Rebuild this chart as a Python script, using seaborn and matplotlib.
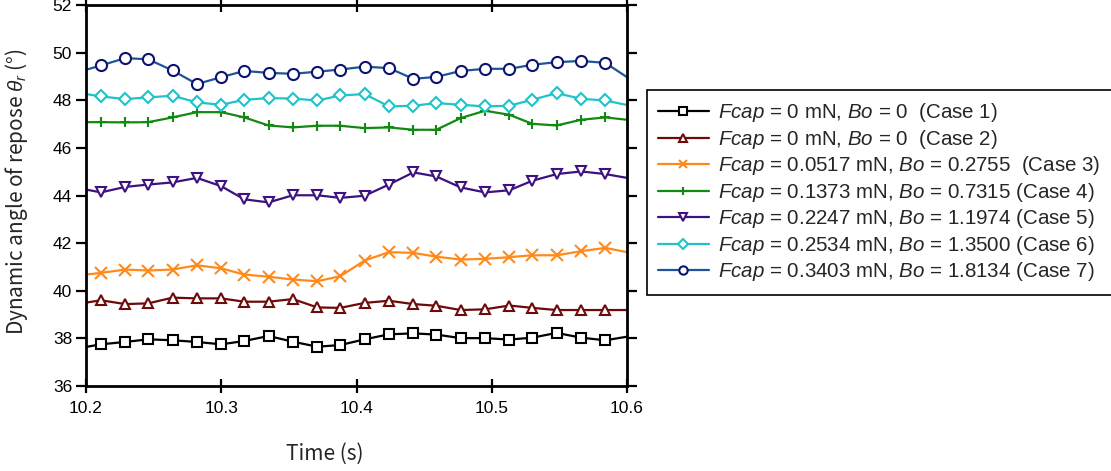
import numpy as np
import pandas as pd
import matplotlib
matplotlib.use("Agg")
import matplotlib.pyplot as plt
import seaborn as sns

# Sampled times (s); first and last entries are the window edges
time_s = [10.200, 10.211, 10.229, 10.246, 10.264, 10.282, 10.300, 10.317, 10.335,
          10.353, 10.371, 10.388, 10.406, 10.424, 10.442, 10.459, 10.477, 10.495,
          10.513, 10.530, 10.548, 10.566, 10.584, 10.600]

# Dynamic angle of repose (deg) for each case
case1 = [37.64, 37.75, 37.85, 37.96, 37.92, 37.85, 37.75, 37.89, 38.10, 37.86, 37.65, 37.72,
         37.96, 38.17, 38.21, 38.16, 38.01, 38.01, 37.95, 38.03, 38.23, 38.03, 37.92, 38.07]
case2 = [39.50, 39.60, 39.44, 39.47, 39.71, 39.68, 39.68, 39.54, 39.54, 39.65, 39.30, 39.28,
         39.49, 39.58, 39.44, 39.37, 39.19, 39.22, 39.38, 39.28, 39.19, 39.19, 39.19, 39.19]
case3 = [40.68, 40.75, 40.89, 40.85, 40.89, 41.07, 40.94, 40.68, 40.59, 40.47, 40.40, 40.61,
         41.27, 41.62, 41.59, 41.43, 41.31, 41.34, 41.41, 41.49, 41.49, 41.66, 41.80, 41.62]
case4 = [47.08, 47.08, 47.07, 47.08, 47.28, 47.50, 47.50, 47.28, 46.94, 46.86, 46.93, 46.93,
         46.83, 46.86, 46.76, 46.76, 47.25, 47.56, 47.39, 47.01, 46.94, 47.18, 47.28, 47.18]
case5 = [44.25, 44.13, 44.36, 44.46, 44.55, 44.74, 44.39, 43.84, 43.71, 44.01, 44.01, 43.90,
         43.99, 44.46, 44.97, 44.80, 44.34, 44.13, 44.22, 44.62, 44.90, 45.01, 44.90, 44.74]
case6 = [48.26, 48.16, 48.05, 48.12, 48.19, 47.91, 47.81, 48.02, 48.09, 48.07, 47.99, 48.20,
         48.26, 47.74, 47.77, 47.88, 47.81, 47.74, 47.77, 48.02, 48.30, 48.06, 47.99, 47.80]
case7 = [49.28, 49.46, 49.77, 49.72, 49.25, 48.68, 48.97, 49.23, 49.15, 49.11, 49.20, 49.29,
         49.41, 49.35, 48.90, 48.98, 49.23, 49.32, 49.32, 49.49, 49.60, 49.65, 49.57, 48.97]

labels = [
    r"$\mathit{Fcap}$ = 0 mN, $\mathit{Bo}$ = 0  (Case 1)",
    r"$\mathit{Fcap}$ = 0 mN, $\mathit{Bo}$ = 0  (Case 2)",
    r"$\mathit{Fcap}$ = 0.0517 mN, $\mathit{Bo}$ = 0.2755  (Case 3)",
    r"$\mathit{Fcap}$ = 0.1373 mN, $\mathit{Bo}$ = 0.7315 (Case 4)",
    r"$\mathit{Fcap}$ = 0.2247 mN, $\mathit{Bo}$ = 1.1974 (Case 5)",
    r"$\mathit{Fcap}$ = 0.2534 mN, $\mathit{Bo}$ = 1.3500 (Case 6)",
    r"$\mathit{Fcap}$ = 0.3403 mN, $\mathit{Bo}$ = 1.8134 (Case 7)",
]
series = [case1, case2, case3, case4, case5, case6, case7]

line_colors = ["#000000", "#6e0a0a", "#ff8a1c", "#128a12", "#3d1280", "#1ec4c8", "#1d5596"]
edge_colors = ["#000000", "#6e0a0a", "#ff8a1c", "#128a12", "#3d1280", "#1ec4c8", "#0c1470"]
markers = ["s", "^", "x", "+", "v", "D", "o"]
msizes = [7.5, 7.5, 8.5, 7, 7.5, 6.5, 8]

sns.set_theme(style="white")
plt.rcParams["font.family"] = ["Liberation Sans", "DejaVu Sans"]
plt.rcParams["mathtext.fontset"] = "custom"
plt.rcParams["mathtext.rm"] = "Liberation Sans"
plt.rcParams["mathtext.it"] = "Liberation Sans:italic"

fig = plt.figure(figsize=(11.11, 4.71), dpi=100)
ax = fig.add_axes([86 / 1111, 1 - 386 / 471, 541 / 1111, 381 / 471])

handles = []
for vals, lab, lc, ec, mk, ms in zip(series, labels, line_colors, edge_colors, markers, msizes):
    df = pd.DataFrame({"t": time_s, "v": vals})
    sns.lineplot(data=df, x="t", y="v", ax=ax, color=lc, linewidth=1.6,
                 marker=mk, markersize=ms, markerfacecolor="white",
                 markeredgecolor=ec, markeredgewidth=1.5,
                 markevery=list(range(1, len(time_s) - 1)), label=lab,
                 legend=False, estimator=None, sort=False)
    h, = ax.plot([], [], color=lc, linewidth=1.6, marker=mk, markersize=ms * 0.75,
                 markerfacecolor="white", markeredgecolor=ec, markeredgewidth=1.5)
    handles.append(h)

ax.set_xlim(10.2, 10.6)
ax.set_ylim(36, 52)
ax.set_xticks([10.2, 10.3, 10.4, 10.5, 10.6])
ax.set_yticks(np.arange(36, 53, 2))
ax.set_xticklabels(["10.2", "10.3", "10.4", "10.5", "10.6"])
ax.tick_params(axis="both", which="both", labelsize=12.5, colors="black")
ax.tick_params(axis="x", direction="inout", length=10, width=1.6, top=True, bottom=True, pad=6)
ax.tick_params(axis="y", direction="out", length=7, width=1.6, left=True, right=True, pad=3)

for sp in ax.spines.values():
    sp.set_visible(True)
    sp.set_color("black")
    sp.set_linewidth(2)

ax.set_xlabel("Time (s)", fontsize=15, family=["Noto Sans CJK KR", "DejaVu Sans"])
ax.xaxis.set_label_coords((325 - 86) / 541, -0.148)
ax.set_ylabel(r"Dynamic angle of repose $\theta_r$ (°)", fontsize=15,
              family=["Noto Sans CJK KR", "DejaVu Sans"])
ax.yaxis.set_label_coords(-0.104, 0.51)

leg = fig.legend(handles, labels, loc="upper left",
                 bbox_to_anchor=(647 / 1111, 1 - 90 / 471), fontsize=14.8,
                 frameon=True, fancybox=False, edgecolor="black", framealpha=1,
                 handlelength=2.45, handletextpad=0.45, labelspacing=0.17,
                 borderpad=0.55, borderaxespad=0)
leg.get_frame().set_linewidth(1.2)

fig.savefig("out.png", dpi=100)
